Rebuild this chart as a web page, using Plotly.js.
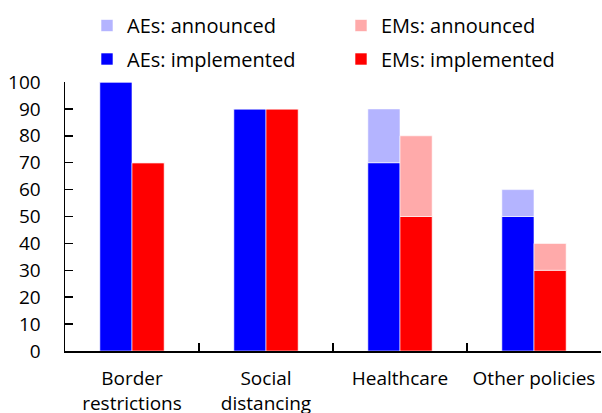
<!DOCTYPE html>
<html>
<head>
<meta charset="utf-8">
<script src="https://cdn.plot.ly/plotly-3.0.1.min.js"></script>
<style>html,body{margin:0;padding:0;background:#fff;}</style>
</head>
<body>
<div id="chart" style="width:602px;height:413px;"></div>
<script>
var categories = ["Border<br>restrictions", "Social<br>distancing", "Healthcare", "Other policies"];
var aeImplemented = [100, 90, 70, 50];
var aeAnnounced = [0, 0, 20, 10];
var emImplemented = [70, 90, 50, 30];
var emAnnounced = [0, 0, 30, 10];
var yTicks = [0, 10, 20, 30, 40, 50, 60, 70, 80, 90, 100];

var fontFam = "'Open Sans', 'Noto Sans', sans-serif";
var line = {width: 0.6, color: "#ffffff"};

var traces = [
  {type: "bar", name: "AEs: implemented", x: categories, y: aeImplemented,
   offsetgroup: "AE", marker: {color: "#0000ff", line: line}, legend: "legend2"},
  {type: "bar", name: "AEs: announced", x: categories, y: aeAnnounced, base: aeImplemented,
   offsetgroup: "AE", marker: {color: "#b4b4ff", line: line}, legend: "legend"},
  {type: "bar", name: "EMs: implemented", x: categories, y: emImplemented,
   offsetgroup: "EM", marker: {color: "#ff0000", line: line}, legend: "legend4"},
  {type: "bar", name: "EMs: announced", x: categories, y: emAnnounced, base: emImplemented,
   offsetgroup: "EM", marker: {color: "#ffaaaa", line: line}, legend: "legend3"}
];

function leg(x, y) {
  return {xref: "container", yref: "container", x: x / 602, y: 1 - y / 413,
    xanchor: "left", yanchor: "middle", bgcolor: "rgba(0,0,0,0)",
    font: {family: fontFam, size: 20, color: "#000"}, itemclick: false};
}

var layout = {
  width: 602, height: 413,
  margin: {l: 65, r: 1, t: 82, b: 62, autoexpand: false},
  paper_bgcolor: "#fff", plot_bgcolor: "#fff",
  barmode: "group",
  bargap: 0.52, bargroupgap: 0,
  font: {family: fontFam, size: 19, color: "#000"},
  xaxis: {tickson: "boundaries", ticks: "inside", ticklen: 8, tickwidth: 1.5, tickcolor: "#000",
    showline: true, linecolor: "#000", linewidth: 1.5, showgrid: false, zeroline: false,
    tickangle: 0, automargin: false, tickfont: {size: 19}, ticklabelstandoff: 10, fixedrange: true},
  yaxis: {range: [0, 100], tickvals: yTicks, ticks: "inside", ticklen: 8, tickwidth: 1.5,
    tickcolor: "#000", showline: true, linecolor: "#000", linewidth: 1.5, showgrid: false,
    zeroline: false, automargin: false, tickfont: {size: 19}, ticklabelstandoff: 19, fixedrange: true},
  legend: leg(87, 25.5),
  legend2: leg(87, 59),
  legend3: leg(341, 25.5),
  legend4: leg(341, 59),
  showlegend: true
};

Plotly.newPlot("chart", traces, layout, {displayModeBar: false, staticPlot: true});
</script>
</body>
</html>
